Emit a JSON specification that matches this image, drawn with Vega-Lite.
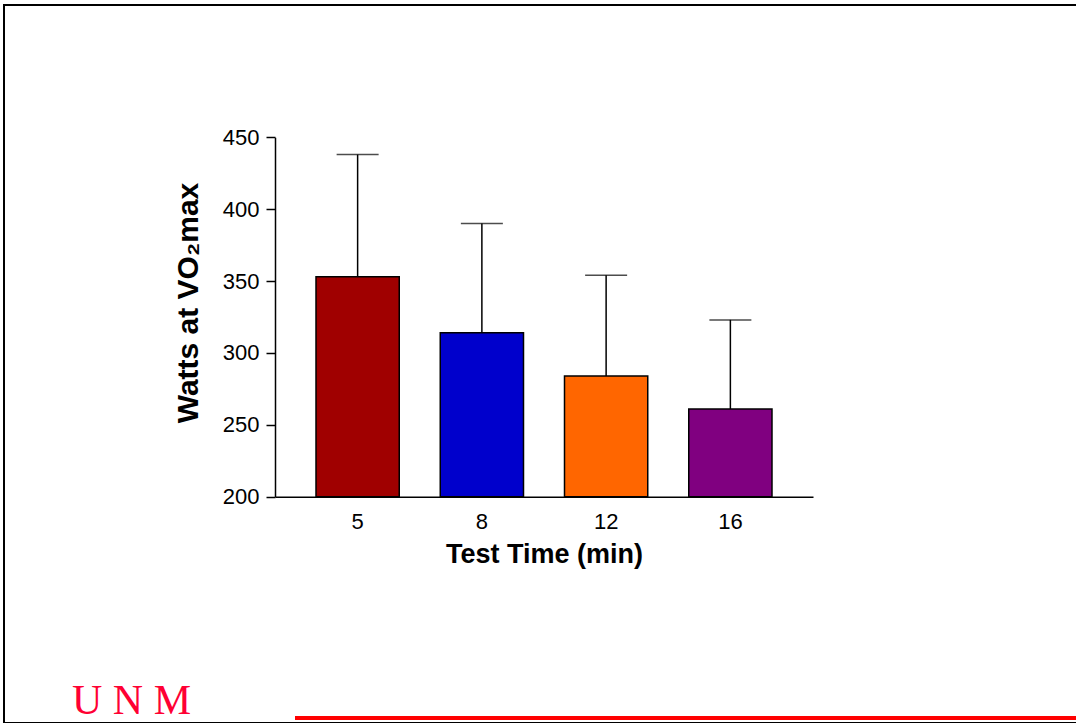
{
  "$schema": "https://vega.github.io/schema/vega-lite/v6.json",
  "width": 1080,
  "height": 718,
  "autosize": {"type": "none"},
  "padding": {"left": 4, "top": 5, "right": 0, "bottom": 0},
  "background": "white",
  "config": {
    "view": {"stroke": "black", "strokeWidth": 2},
    "font": "Liberation Sans"
  },
  "title": {
    "text": "U  N  M",
    "orient": "bottom",
    "anchor": "start",
    "frame": "group",
    "offset": -9,
    "dx": 68,
    "baseline": "alphabetic",
    "font": "Liberation Serif",
    "fontSize": 42,
    "fontWeight": "normal",
    "color": "#FF0033"
  },
  "data": {
    "values": [
      {"time": "5", "mean": 353, "upper": 438},
      {"time": "8", "mean": 314, "upper": 390},
      {"time": "12", "mean": 284, "upper": 354},
      {"time": "16", "mean": 261, "upper": 323}
    ]
  },
  "layer": [
    {
      "mark": {"type": "rule", "color": "#FF0000", "strokeWidth": 4, "strokeDash": [789, 500]},
      "encoding": {
        "y": {"datum": 46, "type": "quantitative"}
      }
    },
    {
      "encoding": {
        "x": {
          "field": "time",
          "type": "nominal",
          "sort": ["5", "8", "12", "16"],
          "scale": {"range": [271, 809], "paddingInner": 0.33, "paddingOuter": 0.33},
          "axis": {
            "orient": "bottom",
            "offset": -226.3,
            "ticks": false,
            "tickSize": 0,
            "labelPadding": 15,
            "labelFontSize": 22,
            "labelAngle": 0,
            "labelColor": "black",
            "labelFont": "Liberation Sans",
            "domainColor": "black",
            "domainWidth": 1.5,
            "title": "Test Time (min)",
            "titleFont": "Liberation Sans",
            "titleFontSize": 27,
            "titleFontWeight": "bold",
            "titlePadding": 9,
            "titleColor": "black"
          }
        }
      },
      "layer": [
        {
          "mark": {"type": "bar", "stroke": "black", "strokeWidth": 1.5},
          "encoding": {
            "y": {
              "field": "mean",
              "type": "quantitative",
              "title": "Watts at VO₂max",
              "scale": {"domain": [200, 450], "range": [491.7, 132.3], "zero": false, "nice": false},
              "axis": {
                "offset": -271,
                "values": [200, 250, 300, 350, 400, 450],
                "titleFont": "Liberation Sans",
                "titleFontSize": 30,
                "titleFontWeight": "bold",
                "titleColor": "black",
                "titleX": -72,
                "titleY": 297.5,
                "labelFont": "Liberation Sans",
                "labelFontSize": 22,
                "labelColor": "black",
                "labelPadding": 7,
                "tickSize": 9,
                "tickWidth": 1.5,
                "tickColor": "black",
                "domainColor": "black",
                "domainWidth": 1.5,
                "grid": false
              }
            },
            "y2": {"datum": 200},
            "color": {
              "field": "time",
              "type": "nominal",
              "scale": {"domain": ["5", "8", "12", "16"], "range": ["#A00000", "#0000CC", "#FF6600", "#800080"]},
              "legend": null
            }
          }
        },
        {
          "mark": {"type": "rule", "color": "black", "strokeWidth": 1.5},
          "encoding": {
            "y": {"field": "mean", "type": "quantitative", "title": "Watts at VO₂max"},
            "y2": {"field": "upper"}
          }
        },
        {
          "mark": {"type": "tick", "color": "black", "thickness": 1.5, "size": 42},
          "encoding": {
            "y": {"field": "upper", "type": "quantitative", "title": "Watts at VO₂max"}
          }
        }
      ]
    }
  ]
}
